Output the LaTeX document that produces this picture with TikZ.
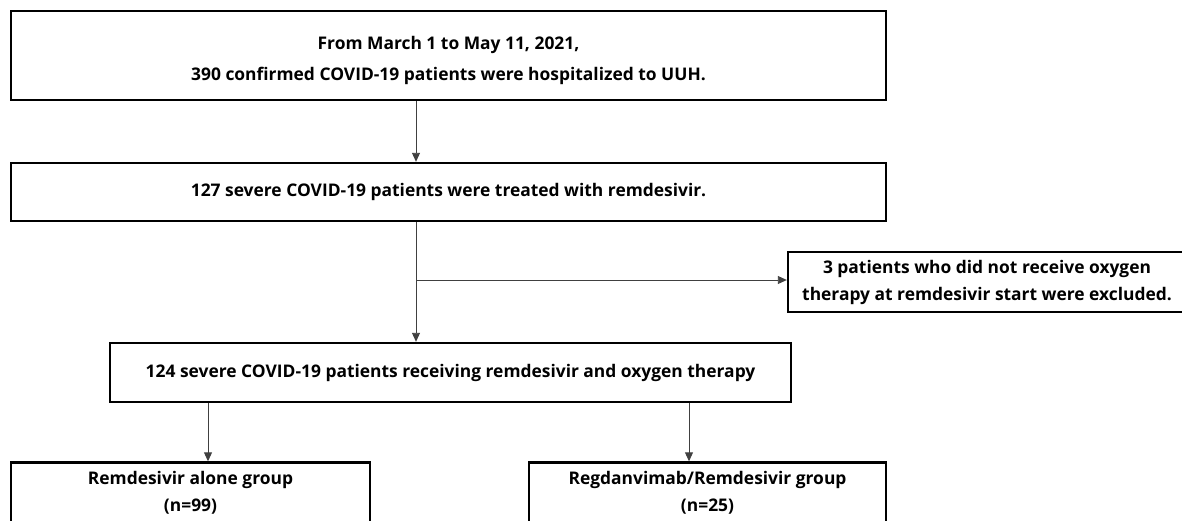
\documentclass[tikz,border=0pt]{standalone}
\usepackage{fontspec}
\setmainfont{Open Sans}
\usetikzlibrary{arrows.meta}
\begin{document}
\begin{tikzpicture}[x=1pt,y=-1pt,
  box/.style={draw=black,line width=2.4pt,rectangle,inner sep=0pt,align=center,
    font=\fontsize{17.4}{27}\selectfont\bfseries},
  conn/.style={draw=black!75,line width=0.9pt,-{Triangle[length=9pt,width=8pt]}}]
\useasboundingbox (0,0) rectangle (1182,520);
\clip (0,0) rectangle (1182,520);
\node[box,minimum width=875pt,minimum height=89pt] (start) at (448.5,55.5) {};
\node[align=center,inner sep=0pt,font=\fontsize{17.4}{31}\selectfont\bfseries] (starttext) at (448.5,60)
  {From March 1 to May 11, 2021,\\390 confirmed COVID-19 patients were hospitalized to UUH.};
\node[box,minimum width=875pt,minimum height=58pt] (treated) at (448.5,192)
  {127 severe COVID-19 patients were treated with remdesivir.};
\node[box,minimum width=398pt,minimum height=60pt] (excl) at (987,282)
  {3 patients who did not receive oxygen\\therapy at remdesivir start were excluded.};
\node[box,minimum width=681pt,minimum height=59pt] (cohort) at (450.5,372.5)
  {124 severe COVID-19 patients receiving remdesivir and oxygen therapy};
\node[box,minimum width=359pt,minimum height=61pt] (alone) at (190.5,493)
  {Remdesivir alone group\\(n=99)};
\node[box,minimum width=357pt,minimum height=61pt] (combo) at (707.5,493)
  {Regdanvimab/Remdesivir group\\(n=25)};
\coordinate (split) at (416,280);
\draw[conn] (start.south -| split) -- (treated.north -| split);
\draw[conn] (treated.south -| split) -- (cohort.north -| split);
\draw[conn] (split) -- (excl.west |- split);
\draw[conn] (cohort.south -| 208,0) -- (alone.north -| 208,0);
\draw[conn] (cohort.south -| 689,0) -- (combo.north -| 689,0);
\end{tikzpicture}
\end{document}
